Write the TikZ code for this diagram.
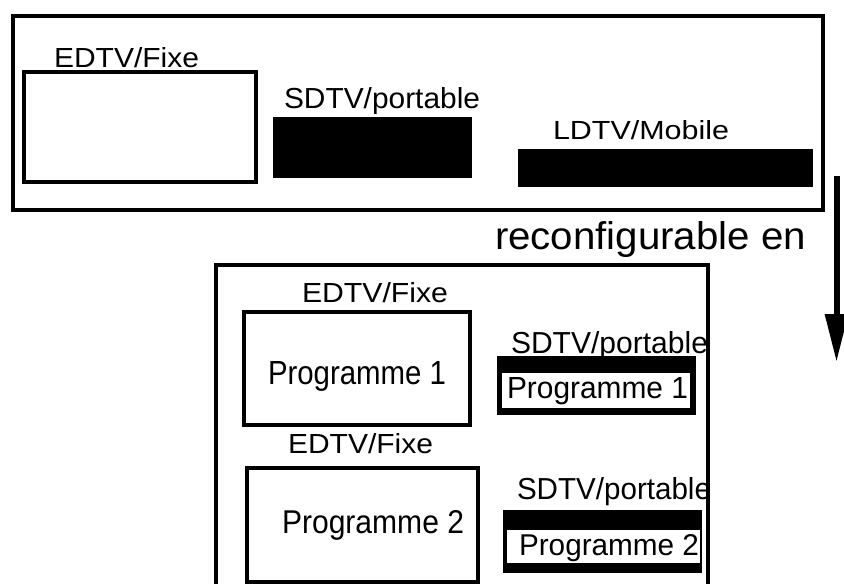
\documentclass[tikz,border=0pt]{standalone}
\usepackage{graphicx}
\usepackage{fontspec}
\setmainfont{Liberation Sans}
\usetikzlibrary{arrows.meta}
\newcommand{\fitlbl}[3]{\resizebox{#1pt}{#2pt}{#3}}
\begin{document}
\begin{tikzpicture}[x=1pt,y=-1pt,
  lbl/.style={anchor=base west,inner sep=0pt,outer sep=0pt},
  outerbox/.style={draw=black,line width=3.4pt},
  tvbox/.style={draw=black,line width=3.4pt},
  blackbar/.style={fill=black},
  whitebar/.style={fill=white},
  bigarrow/.style={line width=6pt,-{Triangle[length=48pt,width=22pt]}}]
\useasboundingbox (0,0) rectangle (844,584);
\clip (0,0) rectangle (844,584);
\fill[white] (0,0) rectangle (844,584);
% top configuration
\draw[outerbox] (13,16) rectangle (823,210);
\draw[tvbox] (24,72) rectangle (256,182);
\node[lbl] (e0) at (54,67) {\fitlbl{145}{20}{EDTV/Fixe}};
\fill[blackbar] (273,117) rectangle (472,178);
\node[lbl] (s0) at (284,108) {\fitlbl{196}{21}{SDTV/portable}};
\fill[blackbar] (518,149) rectangle (813,187);
\node[lbl] (l0) at (553,139) {\fitlbl{176}{19}{LDTV/Mobile}};
% arrow
\node[lbl] (rec) at (495,249) {\fitlbl{311}{28}{reconfigurable en}};
\coordinate (arrS) at (836.5,176);
\coordinate (arrE) at (836.5,362);
\draw[bigarrow] (arrS) -- (arrE);
% bottom configuration
\draw[outerbox] (216,265) rectangle (708,620);
\node[lbl] (e1) at (302,302) {\fitlbl{146}{20}{EDTV/Fixe}};
\draw[tvbox] (244,312) rectangle (470,425);
\node[lbl] (p1) at (268,384) {\fitlbl{178}{23}{Programme 1}};
\node[lbl] (s1) at (511,353) {\fitlbl{197}{22}{SDTV/portable}};
\fill[blackbar] (497,356) rectangle (696,415);
\fill[whitebar] (502,373) rectangle (690,408);
\node[lbl] (q1) at (507,398) {\fitlbl{181}{21}{Programme 1}};
\node[lbl] (e2) at (288,453) {\fitlbl{145}{20}{EDTV/Fixe}};
\draw[tvbox] (247,468) rectangle (478,582);
\node[lbl] (p2) at (282,533) {\fitlbl{182}{23}{Programme 2}};
\node[lbl] (s2) at (517,499) {\fitlbl{194}{22}{SDTV/portable}};
\fill[blackbar] (503,510) rectangle (702,573);
\fill[whitebar] (507,530) rectangle (700,563);
\node[lbl] (q2) at (519,555) {\fitlbl{180}{21}{Programme 2}};
\end{tikzpicture}
\end{document}
